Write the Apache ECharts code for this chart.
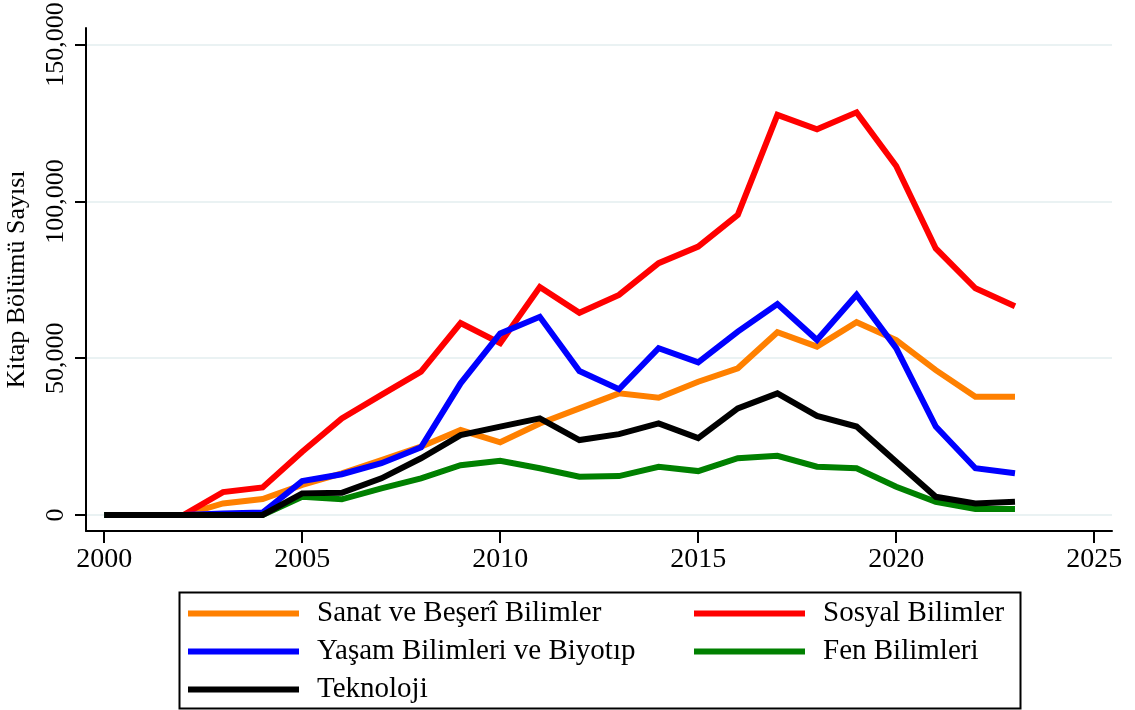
<!DOCTYPE html>
<html>
<head>
<meta charset="utf-8">
<script src="https://cdn.jsdelivr.net/npm/echarts@6/dist/echarts.min.js"></script>
<style>
html,body{margin:0;padding:0;background:#fff;}
#c{width:1135px;height:710px;}
</style>
</head>
<body>
<div id="c"></div>
<script>
const years = [2000,2001,2002,2003,2004,2005,2006,2007,2008,2009,2010,2011,2012,2013,2014,2015,2016,2017,2018,2019,2020,2021,2022,2023];
const sanat    = [0,0,0,3700,5100,9600,13300,17500,21800,27100,23200,29200,34000,38800,37400,42500,46800,58300,53700,61500,55800,46200,37700,37700];
const sosyal   = [0,0,0,7300,8800,20200,30800,38300,45700,61200,54800,72700,64500,70200,80300,85600,95700,127600,123000,128400,111300,85000,72300,66600];
const yasam    = [0,0,0,500,800,10800,13000,16500,21600,42000,57900,63200,45900,40100,53200,48700,58500,67300,55800,70200,53200,28200,14900,13300];
const fen      = [0,0,0,0,0,5800,5000,8500,11700,15900,17300,14900,12200,12400,15400,14000,18100,18900,15400,14900,9000,4200,1900,1900];
const teknoloji= [0,0,0,0,0,6900,7100,11700,18100,25500,28200,30800,23900,25800,29200,24500,34000,38800,31600,28200,17000,5800,3700,4200];
const seriesNames = ['Sanat ve Beşerî Bilimler','Sosyal Bilimler','Yaşam Bilimleri ve Biyotıp','Fen Bilimleri','Teknoloji'];
const seriesValues = [sanat, sosyal, yasam, fen, teknoloji];
const seriesColors = ['#FF8000','#FF0000','#0000FF','#008000','#000000'];
const xTicks = [2000,2005,2010,2015,2020,2025];
const yTicks = [0,50000,100000,150000];
const yTitle = 'Kitap Bölümü Sayısı';

const FONT = 'Liberation Serif';
const chart = echarts.init(document.getElementById('c'), null, {renderer:'canvas'});

const series = seriesNames.map((n,i)=>({
  name:n, type:'line', showSymbol:false, symbol:'none',
  data: years.map((y,j)=>[y, seriesValues[i][j]]),
  lineStyle:{width:6, color:seriesColors[i], join:'miter'},
  itemStyle:{color:seriesColors[i]},
  z: 2+i, animation:false
}));

const legendText = {fontFamily:FONT, fontSize:29, color:'#000', lineHeight:31, padding:[0,0,0,13]};

chart.setOption({
  animation:false,
  backgroundColor:'#fff',
  grid:{left:86, right:23, top:28, bottom:179, containLabel:false, outerBoundsMode:'none'},
  xAxis:{
    type:'value', min:1999.54, max:2025.45,
    axisLine:{show:true, onZero:false, lineStyle:{color:'#000', width:2}},
    axisTick:{show:true, length:12, lineStyle:{color:'#000', width:2}, customValues:xTicks},
    axisLabel:{customValues:xTicks, fontFamily:FONT, fontSize:28, color:'#000', margin:15, formatter:v=>String(v)},
    splitLine:{show:false}
  },
  yAxis:{
    type:'value', min:-5100, max:155300,
    name:yTitle, nameLocation:'middle', nameRotate:90, nameGap:56,
    nameTextStyle:{fontFamily:FONT, fontSize:26, color:'#000'},
    axisLine:{show:true, onZero:false, lineStyle:{color:'#000', width:2}},
    axisTick:{show:true, length:11, lineStyle:{color:'#000', width:2}, customValues:yTicks},
    axisLabel:{customValues:yTicks, rotate:90, fontFamily:FONT, fontSize:26, color:'#000', margin:17,
      formatter:v=>Number(v).toLocaleString('en-US')},
    splitLine:{show:true, lineStyle:{color:'#EAF2F3', width:2}}
  },
  legend:[
    {data:[seriesNames[0],seriesNames[2],seriesNames[4]], orient:'vertical', left:188, top:598,
     icon:'rect', itemWidth:111, itemHeight:6, itemGap:7, textStyle:legendText, padding:0},
    {data:[seriesNames[1],seriesNames[3]], orient:'vertical', left:694, top:598,
     icon:'rect', itemWidth:111, itemHeight:6, itemGap:7, textStyle:legendText, padding:0}
  ],
  graphic:[{type:'rect', left:177, top:590, shape:{width:841, height:116},
    style:{fill:'none', stroke:'#000', lineWidth:2}, z:0}],
  series: series
});
</script>
</body>
</html>
